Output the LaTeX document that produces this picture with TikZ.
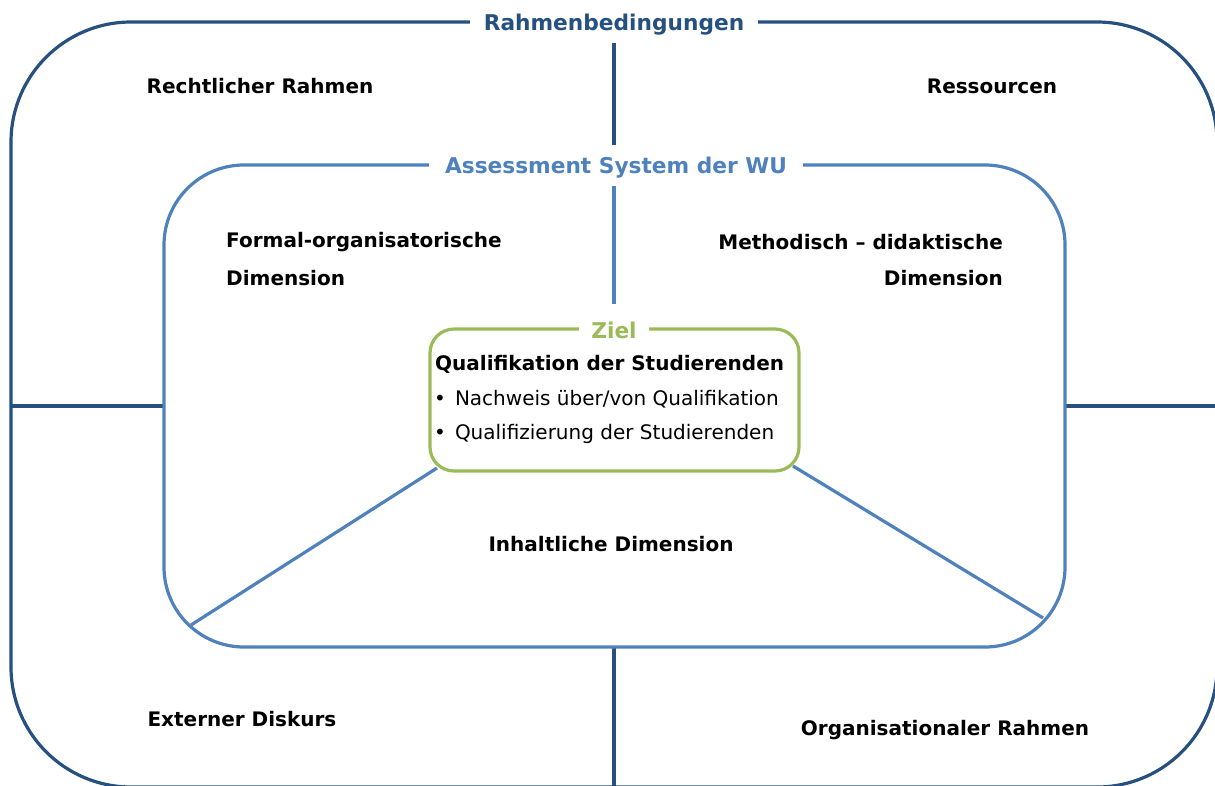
\documentclass[tikz,border=0pt]{standalone}
\usepackage{fontspec}
\setmainfont{DejaVu Sans}
\definecolor{dblue}{HTML}{25507F}
\definecolor{mblue}{HTML}{4F81BD}
\definecolor{zgreen}{HTML}{9BBB59}
\begin{document}
\begin{tikzpicture}[x=1pt,y=-1pt,
  outerline/.style={draw=dblue,line width=3.2pt},
  innerline/.style={draw=mblue,line width=3.2pt},
  greenline/.style={draw=zgreen,line width=3.2pt},
  lbl/.style={font=\bfseries\fontsize{20}{24}\selectfont,text=black,inner sep=0pt},
  btxt/.style={font=\fontsize{20}{24}\selectfont,text=black,inner sep=0pt,anchor=west},
  ttl/.style={font=\bfseries\fontsize{21.7}{26}\selectfont,fill=white,inner xsep=14pt,inner ysep=3pt}
]
\useasboundingbox (0,0) rectangle (1215,785);
% outer frame
\draw[outerline,rounded corners=120pt] (11,22) rectangle (1217,787);
\coordinate (ot) at (614,43);
\coordinate (otb) at (614,145);
\coordinate (ob) at (614,648);
\coordinate (obb) at (614,790);
\coordinate (ol) at (11,406);
\coordinate (olb) at (163,406);
\coordinate (or) at (1217,406);
\coordinate (orb) at (1066,406);
\draw[outerline] (ot) -- (otb);
\draw[outerline] (ob) -- (obb);
\draw[outerline] (ol) -- (olb);
\draw[outerline] (orb) -- (or);
\node[ttl,text=dblue] (rb) at (614,25) {Rahmenbedingungen};
% inner frame
\draw[innerline,rounded corners=80pt] (164,165) rectangle (1065,647);
\coordinate (it) at (614,186);
\coordinate (itb) at (614,304);
\coordinate (dl) at (191,625);
\coordinate (dr) at (1043,618);
\coordinate (gl) at (437,468);
\coordinate (gr) at (793,466);
\draw[innerline] (it) -- (itb);
\draw[innerline] (gl) -- (dl);
\draw[innerline] (gr) -- (dr);
\node[ttl,text=mblue,inner xsep=16pt] (as) at (616,168) {Assessment System der WU};
% green box
\draw[greenline,fill=white,rounded corners=24pt] (430,329) rectangle (799,471);
\node[ttl,text=zgreen,inner xsep=12pt] (ziel) at (614,330) {Ziel};
\node[lbl,anchor=west] (qual) at (435,364) {Qualifikation der Studierenden};
\node[btxt] (b1) at (434,399) {•\hspace{9pt}Nachweis über/von Qualifikation};
\node[btxt] (b2) at (434,434) {•\hspace{9pt}Qualifizierung der Studierenden};
% labels
\node[lbl] (rr) at (260,86) {Rechtlicher Rahmen};
\node[lbl] (res) at (992,86) {Ressourcen};
\node[lbl,anchor=west] (fo1) at (226,242) {Formal-organisatorische};
\node[lbl,anchor=west] (fo2) at (226,278) {Dimension};
\node[lbl,anchor=east] (md1) at (1003,242) {Methodisch – didaktische};
\node[lbl,anchor=east] (md2) at (1003,278) {Dimension};
\node[lbl] (inh) at (611,544) {Inhaltliche Dimension};
\node[lbl] (ext) at (242,719) {Externer Diskurs};
\node[lbl] (org) at (945,730) {Organisationaler Rahmen};
\end{tikzpicture}
\end{document}
